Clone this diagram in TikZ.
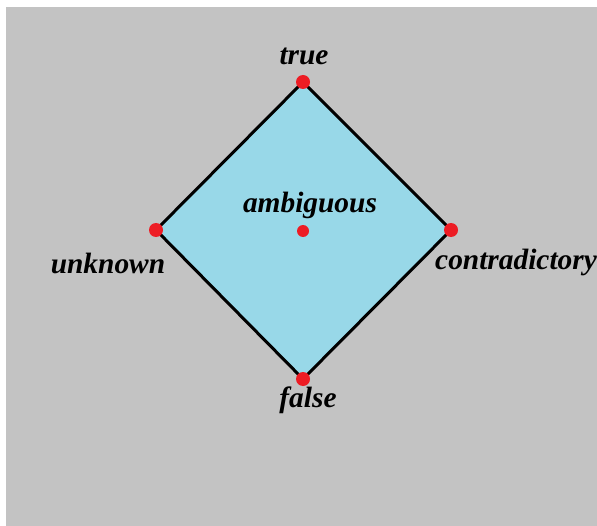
\documentclass[tikz,border=0pt]{standalone}
\usepackage{fontspec}
\setmainfont{Liberation Serif}
\definecolor{bg}{RGB}{195,195,195}
\definecolor{fillblue}{RGB}{152,216,232}
\definecolor{dotred}{RGB}{237,28,36}
\begin{document}
\begin{tikzpicture}[x=1bp,y=-1bp,
  lbl/.style={font=\fontsize{29.5}{31}\selectfont\bfseries\itshape, inner sep=0pt, anchor=base},
  dot/.style={circle, fill=dotred, inner sep=0pt, minimum size=14bp},
  sdot/.style={circle, fill=dotred, inner sep=0pt, minimum size=12bp}]
\useasboundingbox (0,0) rectangle (597,526);
\fill[white] (0,0) rectangle (597,526);
\fill[bg] (6,7) rectangle (597,526);
\coordinate (T) at (303,82);
\coordinate (L) at (156,230);
\coordinate (R) at (451,230);
\coordinate (B) at (303,379);
\filldraw[fill=fillblue, draw=black, line width=3bp, line join=miter] (T) -- (R) -- (B) -- (L) -- cycle;
\node[dot] (t) at (T) {};
\node[dot] (l) at (L) {};
\node[dot] (r) at (R) {};
\node[dot] (b) at (B) {};
\node[sdot] (c) at (303,231) {};
\node[lbl] (tt) at (304,65) {true};
\node[lbl] (tu) at (108,273) {unknown};
\node[lbl, anchor=base west] (tc) at (435,269) {contradictory};
\node[lbl] (ta) at (310,213) {ambiguous};
\node[lbl] (tf) at (308,407) {false};
\end{tikzpicture}
\end{document}
